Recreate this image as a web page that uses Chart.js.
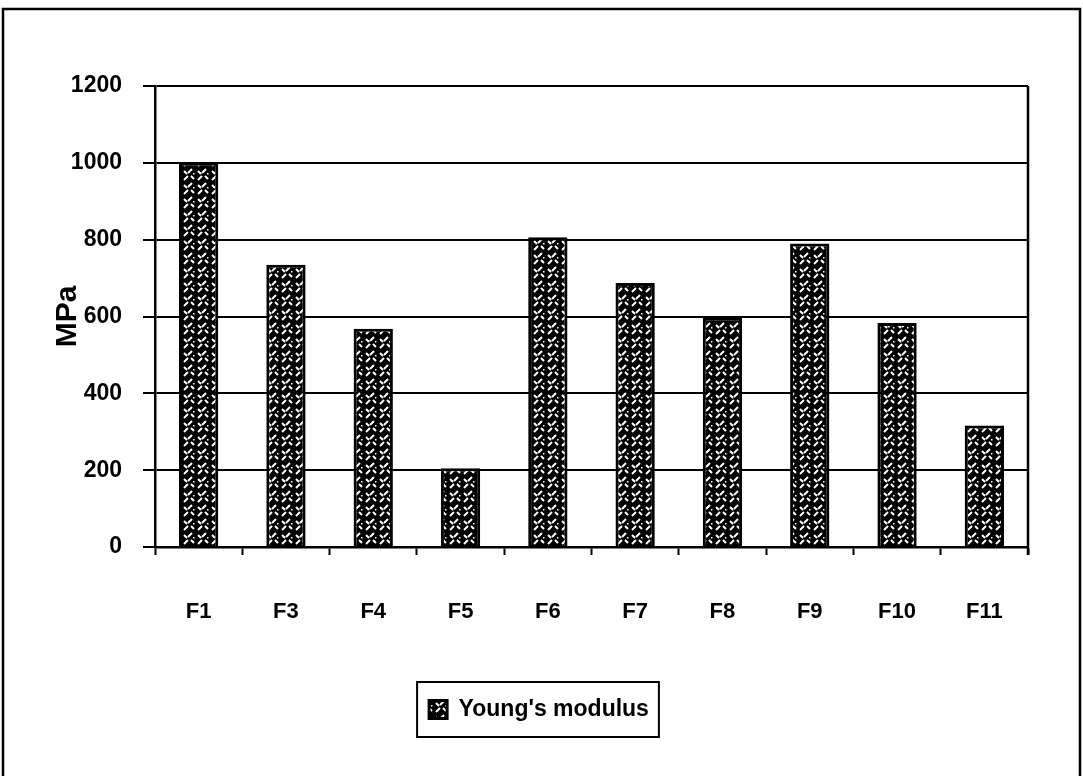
<!DOCTYPE html>
<html>
<head>
<meta charset="utf-8">
<title>Young's modulus</title>
<script src="https://cdn.jsdelivr.net/npm/chart.js@4.4.1/dist/chart.umd.min.js"></script>
<style>
  html, body { margin: 0; padding: 0; background: #fff; }
  #wrap { width: 1083px; height: 776px; }
</style>
</head>
<body>
<div id="wrap"><canvas id="chart" width="1083" height="776"></canvas></div>
<script>
const categories = ['F1', 'F3', 'F4', 'F5', 'F6', 'F7', 'F8', 'F9', 'F10', 'F11'];
const youngsModulus = [1000, 735, 568, 205, 806, 687, 597, 790, 583, 316];
const yMin = 0;
const yMax = 1200;
const yStep = 200;

const FONT = '"Liberation Sans", Arial, sans-serif';

// black tile with white woven strokes, like the scanned hatch
function makeWeave() {
  const tile = document.createElement('canvas');
  tile.width = 14;
  tile.height = 14;
  const c = tile.getContext('2d');
  c.fillStyle = '#000';
  c.fillRect(0, 0, 14, 14);
  c.strokeStyle = '#fff';
  c.lineWidth = 2;
  c.lineCap = 'butt';
  c.beginPath();
  // check mark: short "\" then long "/"
  c.moveTo(2, 3); c.lineTo(5, 6);
  c.moveTo(6, 5); c.lineTo(10, 1);
  // lower "/" stroke
  c.moveTo(2, 12); c.lineTo(6, 8);
  // lower "\" stroke
  c.moveTo(9, 8); c.lineTo(12, 11);
  c.stroke();
  c.fillStyle = '#fff';
  c.fillRect(11, 5, 1.5, 1.5);
  return c.createPattern(tile, 'repeat');
}

const weave = makeWeave();

const framePlugin = {
  id: 'frame',
  beforeDraw(chart) {
    const ctx = chart.ctx;
    ctx.save();
    ctx.fillStyle = '#fff';
    ctx.fillRect(0, 0, chart.width, chart.height);
    ctx.restore();
  },
  afterDraw(chart) {
    const ctx = chart.ctx;
    const a = chart.chartArea;
    ctx.save();
    ctx.strokeStyle = '#000';
    ctx.lineWidth = 2.5;
    ctx.strokeRect(3, 9, 1077, 820);
    ctx.beginPath();
    ctx.moveTo(a.right, a.top);
    ctx.lineTo(a.right, a.bottom + 8);
    ctx.stroke();
    const hb = chart.legend.legendHitBoxes[0];
    if (hb) {
      ctx.lineWidth = 2;
      ctx.strokeRect(hb.left - 12, hb.top - 16, hb.width + 22, hb.height + 32);
    }
    ctx.restore();
  }
};

new Chart(document.getElementById('chart'), {
  type: 'bar',
  data: {
    labels: categories,
    datasets: [{
      label: "Young's modulus",
      data: youngsModulus,
      backgroundColor: weave,
      borderColor: '#000',
      borderWidth: 3,
      barPercentage: 0.45,
      categoryPercentage: 1
    }]
  },
  options: {
    responsive: false,
    animation: false,
    devicePixelRatio: 1,
    layout: { padding: { left: 50, right: 55, top: 86, bottom: 45 } },
    plugins: {
      legend: {
        position: 'bottom',
        labels: {
          color: '#000',
          font: { family: FONT, size: 23, weight: 'bold' },
          boxWidth: 18,
          boxHeight: 18,
          padding: 10
        }
      },
      tooltip: { enabled: false }
    },
    scales: {
      x: {
        offset: true,
        grid: {
          offset: true,
          drawOnChartArea: false,
          drawTicks: true,
          tickLength: 8,
          tickWidth: 2,
          tickColor: '#000'
        },
        border: { color: '#000', width: 2.5 },
        ticks: {
          color: '#000',
          padding: 44,
          font: { family: FONT, size: 22, weight: 'bold' }
        },
        afterFit(scale) { scale.height = 141; }
      },
      y: {
        min: yMin,
        max: yMax,
        ticks: {
          stepSize: yStep,
          color: '#000',
          padding: 21,
          font: { family: FONT, size: 23, weight: 'bold' },
          callback: (v) => String(v)
        },
        grid: {
          color: '#000',
          lineWidth: 2,
          tickLength: 12,
          tickColor: '#000'
        },
        border: { color: '#000', width: 2.5 },
        title: {
          display: true,
          text: 'MPa',
          color: '#000',
          padding: { top: 0, bottom: 0 },
          font: { family: FONT, size: 30, weight: 'bold' }
        },
        afterFit(scale) { scale.width = 105; }
      }
    }
  },
  plugins: [framePlugin]
});
</script>
</body>
</html>
